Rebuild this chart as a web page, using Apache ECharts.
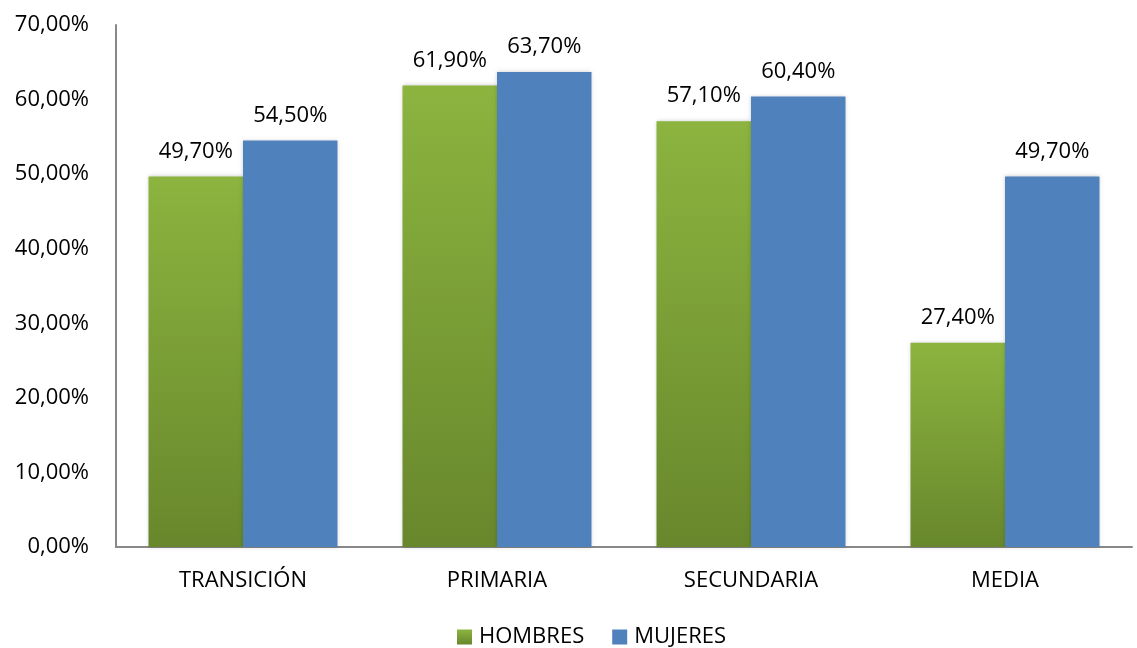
<!DOCTYPE html>
<html><head><meta charset="utf-8">
<script src="https://cdn.jsdelivr.net/npm/echarts@6/dist/echarts.min.js"></script>
<style>html,body{margin:0;padding:0;background:#fff}#c{width:1137px;height:648px}</style>
</head><body><div id="c"></div>
<script>
const categories = ['TRANSICIÓN', 'PRIMARIA', 'SECUNDARIA', 'MEDIA'];
const hombres = [49.7, 61.9, 57.1, 27.4];
const mujeres = [54.5, 63.7, 60.4, 49.7];
const seriesNames = ['HOMBRES', 'MUJERES'];
const fmt = v => v.toFixed(2).replace('.', ',') + '%';
const font = '"Open Sans", "Liberation Sans", sans-serif';
const chart = echarts.init(document.getElementById('c'));
const green = new echarts.graphic.LinearGradient(0, 0, 0, 1, [
  {offset: 0, color: '#8cb43f'}, {offset: 1, color: '#68872c'}]);
const labelCfg = {show: true, position: 'top', distance: 14, color: '#000', fontSize: 22, fontFamily: font,
  formatter: p => fmt(p.value)};
chart.setOption({
  animation: false,
  textStyle: {fontFamily: font},
  grid: {left: 116, right: 5, top: 25, bottom: 101, containLabel: false},
  legend: {top: 621, left: 452, itemWidth: 15, itemHeight: 15, itemGap: 28,
    icon: 'rect', textStyle: {fontSize: 22, color: '#000', fontFamily: font, padding: [0, 0, 0, 2]},
    data: seriesNames},
  xAxis: {type: 'category', data: categories,
    axisLine: {lineStyle: {color: '#888', width: 2}}, axisTick: {show: false},
    axisLabel: {color: '#000', fontSize: 22, margin: 23, fontFamily: font}},
  yAxis: {type: 'value', min: 0, max: 70, interval: 10,
    axisLine: {show: true, lineStyle: {color: '#888', width: 2}}, axisTick: {show: false},
    splitLine: {show: false},
    axisLabel: {color: '#000', fontSize: 22, margin: 27, fontFamily: font, formatter: v => fmt(v)}},
  series: [
    {name: seriesNames[0], type: 'bar', data: hombres, barGap: '0%', barCategoryGap: '25.6%',
      itemStyle: {color: green, shadowBlur: 4, shadowColor: 'rgba(0,0,0,0.2)'}, label: labelCfg},
    {name: seriesNames[1], type: 'bar', data: mujeres,
      itemStyle: {color: '#4f81bd', shadowBlur: 4, shadowColor: 'rgba(0,0,0,0.2)'}, label: labelCfg}
  ]
});
</script></body></html>
